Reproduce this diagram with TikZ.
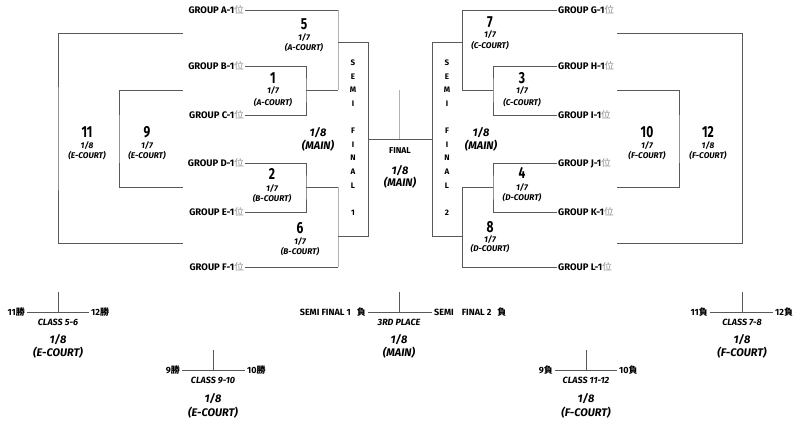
\documentclass[tikz,border=0pt]{standalone}
\usepackage{fontspec}
\setmainfont{Fira Sans}
\newfontfamily\cjk{Noto Sans CJK JP}
\newfontfamily\numfont{Fira Sans}[FakeStretch=0.75]
\newcommand{\grouplabel}[1]{GROUP #1-1{\cjk\mdseries\color{black!45}位}}
\begin{document}
\begin{tikzpicture}[x=1pt,y=-1pt,
    line/.style={draw=black!65, line width=0.9pt},
    faint/.style={draw=black!30, line width=0.9pt},
    group/.style={font=\fontsize{9.5}{11}\selectfont\bfseries, inner sep=1pt},
    num/.style={font=\numfont\fontsize{16}{16}\selectfont\bfseries, inner sep=0pt},
    sub/.style={font=\fontsize{8.3}{9}\selectfont\bfseries\itshape, inner sep=0pt},
    main/.style={font=\fontsize{11}{12}\selectfont\bfseries\itshape, inner sep=0pt},
    letter/.style={font=\fontsize{8}{8}\selectfont\bfseries, inner sep=0pt},
    team/.style={font=\fontsize{9}{10}\selectfont\bfseries, inner sep=2pt},
    class/.style={font=\fontsize{9}{10}\selectfont\bfseries\itshape, inner sep=0pt}]
    \useasboundingbox (0,0) rectangle (800,426);

    \node[group, anchor=east] (gA) at (245,10) {\grouplabel{A}};
    \node[group, anchor=east] (gB) at (245,66) {\grouplabel{B}};
    \node[group, anchor=east] (gC) at (245,115) {\grouplabel{C}};
    \node[group, anchor=east] (gD) at (245,163) {\grouplabel{D}};
    \node[group, anchor=east] (gE) at (245,212) {\grouplabel{E}};
    \node[group, anchor=east] (gF) at (245,267) {\grouplabel{F}};
    \node[group, anchor=west] (gG) at (557,10) {\grouplabel{G}};
    \node[group, anchor=west] (gH) at (557,66) {\grouplabel{H}};
    \node[group, anchor=west] (gI) at (557,115) {\grouplabel{I}};
    \node[group, anchor=west] (gJ) at (557,163) {\grouplabel{J}};
    \node[group, anchor=west] (gK) at (557,212) {\grouplabel{K}};
    \node[group, anchor=west] (gL) at (557,267) {\grouplabel{L}};

    \coordinate (m1) at (306,90);
    \coordinate (m2) at (306,187);
    \coordinate (m5) at (338,42);
    \coordinate (m6) at (338,236);
    \coordinate (s1a) at (368,42);
    \coordinate (s1b) at (368,236);
    \coordinate (s1) at (368,139);
    \coordinate (m3) at (493,90);
    \coordinate (m4) at (493,187);
    \coordinate (m7) at (462,42);
    \coordinate (m8) at (462,236);
    \coordinate (s2a) at (432,42);
    \coordinate (s2b) at (432,236);
    \coordinate (s2) at (432,139);
    \coordinate (ft) at (399,90);
    \coordinate (f) at (399,139);

    \draw[line] (gB.east) -| (m1) |- (gC.east);
    \draw[line] (gD.east) -| (m2) |- (gE.east);
    \draw[line] (gA.east) -- (gA.east -| m5);
    \draw[faint] (gA.east -| m5) -- (m1 -| m5);
    \draw[line] (m1) -- (m1 -| m5);
    \draw[line] (m2) -- (m2 -| m6);
    \draw[faint] (m2 -| m6) -- (gF.east -| m6);
    \draw[line] (gF.east) -- (gF.east -| m6);
    \draw[line] (m5) -- (s1a) -- (s1b) -- (m6);
    \draw[line] (s1) -- (s2);
    \draw[faint] (ft) -- (f);
    \draw[line] (gH.west) -| (m3) |- (gI.west);
    \draw[line] (gJ.west) -| (m4) |- (gK.west);
    \draw[line] (gG.west) -| (m3 -| m7) -- (m3);
    \draw[line] (m4) -- (m4 -| m8) |- (gL.west);
    \draw[line] (m7) -- (s2a) -- (s2b) -- (m8);

    \coordinate (c11a) at (183,33);
    \coordinate (c11b) at (183,243);
    \coordinate (m11) at (58,139);
    \coordinate (c9a) at (183,90);
    \coordinate (c9b) at (183,187);
    \coordinate (m9) at (119,139);
    \coordinate (c12a) at (617,33);
    \coordinate (c12b) at (617,243);
    \coordinate (m12) at (742,139);
    \coordinate (c10a) at (617,90);
    \coordinate (c10b) at (617,187);
    \coordinate (m10) at (679,139);
    \draw[line] (c11a) -| (m11) |- (c11b);
    \draw[line] (c9a) -| (m9) |- (c9b);
    \draw[line] (c12a) -| (m12) |- (c12b);
    \draw[line] (c10a) -| (m10) |- (c10b);

    \node[num] (n5) at (304,24) {5};
    \node[sub] (n5r) at (304,38) {1/7};
    \node[sub] (n5c) at (304,48) {(A-COURT)};
    \node[num] (n1) at (273,78) {1};
    \node[sub] (n1r) at (273,91) {1/7};
    \node[sub] (n1c) at (273,103) {(A-COURT)};
    \node[num] (n2) at (272,174) {2};
    \node[sub] (n2r) at (272,189) {1/7};
    \node[sub] (n2c) at (272,199) {(B-COURT)};
    \node[num] (n6) at (300,228) {6};
    \node[sub] (n6r) at (300,242) {1/7};
    \node[sub] (n6c) at (300,252) {(B-COURT)};
    \node[num] (n7) at (490,22) {7};
    \node[sub] (n7r) at (490,35) {1/7};
    \node[sub] (n7c) at (490,46) {(C-COURT)};
    \node[num] (n3) at (522,78) {3};
    \node[sub] (n3r) at (522,91) {1/7};
    \node[sub] (n3c) at (522,103) {(C-COURT)};
    \node[num] (n4) at (522,173) {4};
    \node[sub] (n4r) at (522,188) {1/7};
    \node[sub] (n4c) at (522,198) {(D-COURT)};
    \node[num] (n8) at (490,227) {8};
    \node[sub] (n8r) at (490,240) {1/7};
    \node[sub] (n8c) at (490,249) {(D-COURT)};
    \node[num] (n11) at (87,132) {11};
    \node[sub] (n11r) at (87,146) {1/8};
    \node[sub] (n11c) at (87,156) {(E-COURT)};
    \node[num] (n9) at (147,132) {9};
    \node[sub] (n9r) at (147,146) {1/7};
    \node[sub] (n9c) at (147,156) {(E-COURT)};
    \node[num] (n10) at (647,132) {10};
    \node[sub] (n10r) at (647,146) {1/7};
    \node[sub] (n10c) at (647,156) {(F-COURT)};
    \node[num] (n12) at (708,132) {12};
    \node[sub] (n12r) at (708,146) {1/8};
    \node[sub] (n12c) at (708,156) {(F-COURT)};

    \node[main] (sf1r) at (318,133) {1/8};
    \node[main] (sf1c) at (318,146) {(MAIN)};
    \node[main] (sf2r) at (481,133) {1/8};
    \node[main] (sf2c) at (481,146) {(MAIN)};
    \foreach \ch [count=\i] in {S,E,M,I,{},F,I,N,A,L,{},1}
        \node[letter] (sa\i) at (353,{49.4+13.6*\i}) {\ch};
    \foreach \ch [count=\i] in {S,E,M,I,{},F,I,N,A,L,{},2}
        \node[letter] (sb\i) at (447,{49.4+13.6*\i}) {\ch};
    \node[letter, font=\fontsize{8.5}{9}\selectfont\bfseries] (fin) at (400,151) {FINAL};
    \node[main] (finr) at (400,171) {1/8};
    \node[main] (finc) at (400,183) {(MAIN)};

    \node[team, anchor=east] (w11) at (27,312) {11{\cjk 勝}};
    \node[team, anchor=west] (w12) at (89,312) {12{\cjk 勝}};
    \coordinate (t56) at (58,292);
    \draw[line] (w11.east) -- (w12.west);
    \draw[line] (t56) -- (t56 |- w11.east);
    \node[class] (k56) at (58,322) {CLASS 5-6};
    \node[main] (k56r) at (58,340) {1/8};
    \node[main] (k56c) at (58,353) {(E-COURT)};

    \node[team, anchor=east] (w9) at (182,370) {9{\cjk 勝}};
    \node[team, anchor=west] (w10) at (245,370) {10{\cjk 勝}};
    \coordinate (t910) at (213,350);
    \draw[line] (w9.east) -- (w10.west);
    \draw[line] (t910) -- (t910 |- w9.east);
    \node[class] (k910) at (213,380) {CLASS 9-10};
    \node[main] (k910r) at (213,399) {1/8};
    \node[main] (k910c) at (213,413) {(E-COURT)};

    \node[team, anchor=east] (ls1) at (368,312) {SEMI FINAL 1\hspace{6pt}{\cjk 負}};
    \node[team, anchor=west] (ls2) at (432,312) {SEMI\hspace{8pt}FINAL 2\hspace{6pt}{\cjk 負}};
    \coordinate (t3) at (399,292);
    \draw[line] (ls1.east) -- (ls2.west);
    \draw[line] (t3) -- (t3 |- ls1.east);
    \node[class] (k3) at (399,322) {3RD PLACE};
    \node[main] (k3r) at (399,340) {1/8};
    \node[main] (k3c) at (399,353) {(MAIN)};

    \node[team, anchor=east] (l9) at (555,370) {9{\cjk 負}};
    \node[team, anchor=west] (l10) at (617,370) {10{\cjk 負}};
    \coordinate (t1112) at (586,350);
    \draw[line] (l9.east) -- (l10.west);
    \draw[line] (t1112) -- (t1112 |- l9.east);
    \node[class] (k1112) at (586,380) {CLASS 11-12};
    \node[main] (k1112r) at (586,399) {1/8};
    \node[main] (k1112c) at (586,413) {(F-COURT)};

    \node[team, anchor=east] (l11) at (710,312) {11{\cjk 負}};
    \node[team, anchor=west] (l12) at (773,312) {12{\cjk 負}};
    \coordinate (t78) at (742,292);
    \draw[line] (l11.east) -- (l12.west);
    \draw[line] (t78) -- (t78 |- l11.east);
    \node[class] (k78) at (742,322) {CLASS 7-8};
    \node[main] (k78r) at (742,340) {1/8};
    \node[main] (k78c) at (742,353) {(F-COURT)};
\end{tikzpicture}
\end{document}
